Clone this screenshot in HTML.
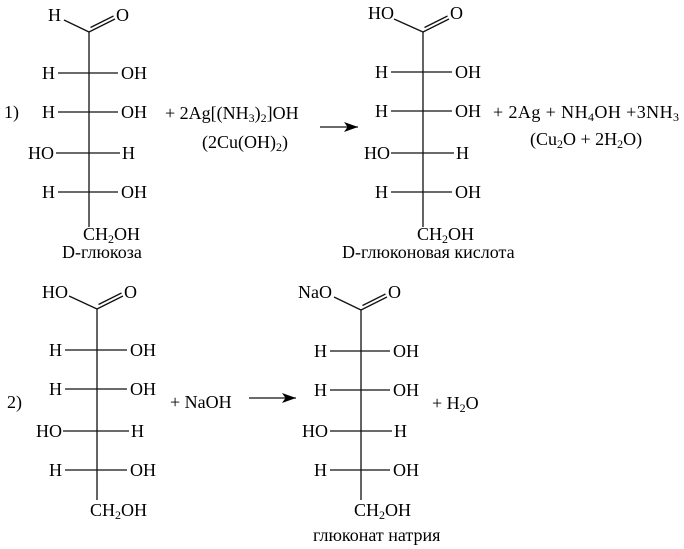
<!DOCTYPE html>
<html><head><meta charset="utf-8"><style>
html,body{margin:0;padding:0;background:#fff;}
svg{display:block;}
text{font-family:"Liberation Serif","Times New Roman",serif;font-size:18px;fill:#000;}
.s{font-size:12px;}
</style></head><body>
<svg width="684" height="549" viewBox="0 0 684 549" xmlns="http://www.w3.org/2000/svg">
<defs>
<marker id="ah" markerWidth="16" markerHeight="12" refX="14" refY="5.5" orient="auto" markerUnits="userSpaceOnUse">
<path d="M0,0.5 L14,5.5 L0,10.5 L3.5,5.5 Z" fill="#000"/>
</marker>
</defs>
<g stroke="#111" stroke-width="1.3" fill="none">
<!-- Structure 1: glucose -->
<line x1="64" y1="20" x2="89" y2="32"/>
<line x1="89" y1="32" x2="115" y2="19"/>
<line x1="90.5" y1="27.5" x2="113.5" y2="16"/>
<line x1="89" y1="32" x2="89" y2="227"/>
<line x1="58" y1="73" x2="118" y2="73"/>
<line x1="58" y1="112" x2="118" y2="112"/>
<line x1="56" y1="153" x2="120" y2="153"/>
<line x1="58" y1="192" x2="118" y2="192"/>
<!-- Structure 2: gluconic acid -->
<line x1="394" y1="19" x2="423" y2="32"/>
<line x1="423" y1="32" x2="449" y2="19"/>
<line x1="424.5" y1="27.5" x2="447.5" y2="16"/>
<line x1="423" y1="32" x2="423" y2="227"/>
<line x1="391" y1="72" x2="452" y2="72"/>
<line x1="391" y1="111" x2="452" y2="111"/>
<line x1="391" y1="153" x2="454" y2="153"/>
<line x1="391" y1="192" x2="452" y2="192"/>
<!-- Structure 3 -->
<line x1="69" y1="296" x2="97" y2="309"/>
<line x1="97" y1="309" x2="123" y2="296"/>
<line x1="98.5" y1="304.5" x2="121.5" y2="293"/>
<line x1="97" y1="309" x2="97" y2="500"/>
<line x1="65" y1="350" x2="127" y2="350"/>
<line x1="65" y1="389" x2="127" y2="389"/>
<line x1="63" y1="431" x2="129" y2="431"/>
<line x1="65" y1="470" x2="127" y2="470"/>
<!-- Structure 4 -->
<line x1="334" y1="297" x2="361" y2="310"/>
<line x1="361" y1="310" x2="387" y2="297"/>
<line x1="362.5" y1="305.5" x2="385.5" y2="294"/>
<line x1="361" y1="310" x2="361" y2="500"/>
<line x1="330" y1="351" x2="390" y2="351"/>
<line x1="330" y1="390" x2="390" y2="390"/>
<line x1="330" y1="431" x2="392" y2="431"/>
<line x1="330" y1="470" x2="390" y2="470"/>
<!-- arrows -->
<line x1="320" y1="127" x2="358" y2="127" marker-end="url(#ah)"/>
<line x1="249" y1="398" x2="296" y2="398" marker-end="url(#ah)"/>
</g>

<!-- Structure 1 text -->
<text x="48" y="21">H</text>
<text x="116" y="21">O</text>
<text x="55" y="79" text-anchor="end">H</text>
<text x="121" y="79">OH</text>
<text x="55" y="118" text-anchor="end">H</text>
<text x="121" y="118">OH</text>
<text x="54" y="159" text-anchor="end">HO</text>
<text x="122" y="159">H</text>
<text x="55" y="198" text-anchor="end">H</text>
<text x="121" y="198">OH</text>
<text x="83" y="240">CH<tspan class="s" dy="3">2</tspan><tspan dy="-3">OH</tspan></text>
<text x="62" y="258">D-глюкоза</text>
<text x="4" y="118">1)</text>

<!-- reagents -->
<text x="165" y="119">+ 2Ag[(NH<tspan class="s" dy="3">3</tspan><tspan dy="-3">)</tspan><tspan class="s" dy="3">2</tspan><tspan dy="-3">]OH</tspan></text>
<text x="202" y="148">(2Cu(OH)<tspan class="s" dy="3">2</tspan><tspan dy="-3">)</tspan></text>

<!-- Structure 2 text -->
<text x="368" y="19">HO</text>
<text x="450" y="19">O</text>
<text x="388" y="78" text-anchor="end">H</text>
<text x="455" y="78">OH</text>
<text x="388" y="117" text-anchor="end">H</text>
<text x="455" y="117">OH</text>
<text x="390" y="159" text-anchor="end">HO</text>
<text x="456" y="159">H</text>
<text x="388" y="198" text-anchor="end">H</text>
<text x="455" y="198">OH</text>
<text x="417" y="240">CH<tspan class="s" dy="3">2</tspan><tspan dy="-3">OH</tspan></text>
<text x="342" y="258">D-глюконовая кислота</text>

<!-- products -->
<text x="493" y="118" textLength="186" lengthAdjust="spacing">+ 2Ag + NH<tspan class="s" dy="3">4</tspan><tspan dy="-3">OH +3NH</tspan><tspan class="s" dy="3">3</tspan></text>
<text x="530" y="145">(Cu<tspan class="s" dy="3">2</tspan><tspan dy="-3">O + 2H</tspan><tspan class="s" dy="3">2</tspan><tspan dy="-3">O)</tspan></text>

<!-- Structure 3 text -->
<text x="42" y="298">HO</text>
<text x="124" y="298">O</text>
<text x="62" y="356" text-anchor="end">H</text>
<text x="130" y="356">OH</text>
<text x="62" y="395" text-anchor="end">H</text>
<text x="130" y="395">OH</text>
<text x="62" y="437" text-anchor="end">HO</text>
<text x="131" y="437">H</text>
<text x="62" y="476" text-anchor="end">H</text>
<text x="130" y="476">OH</text>
<text x="90" y="516">CH<tspan class="s" dy="3">2</tspan><tspan dy="-3">OH</tspan></text>
<text x="7" y="408">2)</text>
<text x="170" y="408">+ NaOH</text>

<!-- Structure 4 text -->
<text x="298" y="298">NaO</text>
<text x="388" y="298">O</text>
<text x="327" y="357" text-anchor="end">H</text>
<text x="393" y="357">OH</text>
<text x="327" y="396" text-anchor="end">H</text>
<text x="393" y="396">OH</text>
<text x="328" y="437" text-anchor="end">HO</text>
<text x="394" y="437">H</text>
<text x="327" y="476" text-anchor="end">H</text>
<text x="393" y="476">OH</text>
<text x="354" y="516">CH<tspan class="s" dy="3">2</tspan><tspan dy="-3">OH</tspan></text>
<text x="313" y="541">глюконат натрия</text>
<text x="432" y="409">+ H<tspan class="s" dy="3">2</tspan><tspan dy="-3">O</tspan></text>
</svg>
</body></html>
